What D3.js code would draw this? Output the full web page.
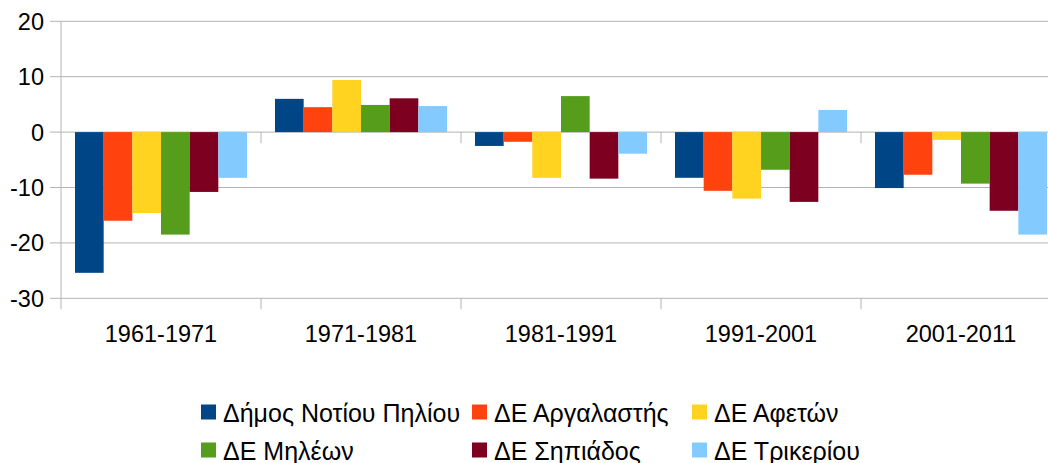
<!DOCTYPE html>
<html>
<head>
<meta charset="utf-8">
<script src="https://cdn.jsdelivr.net/npm/d3@7"></script>
<style>
  html, body { margin: 0; padding: 0; background: #fff; }
  svg { display: block; }
  text { font-family: "Liberation Sans", Arial, sans-serif; fill: #000; }
</style>
</head>
<body>
<svg id="chart" width="1048" height="463"></svg>
<script>
const categories = ["1961-1971", "1971-1981", "1981-1991", "1991-2001", "2001-2011"];
const seriesNames = ["Δήμος Νοτίου Πηλίου", "ΔΕ Αργαλαστής", "ΔΕ Αφετών", "ΔΕ Μηλέων", "ΔΕ Σηπιάδος", "ΔΕ Τρικερίου"];
const seriesColors = ["#004586", "#ff420e", "#ffd320", "#579d1c", "#7e0021", "#83caff"];
const dimosNotiouPiliou = [-25.4, 6.0, -2.5, -8.25, -10.1];
const deArgalastis      = [-16.0, 4.5, -1.75, -10.6, -7.7];
const deAfeton          = [-14.6, 9.4, -8.25, -12.0, -1.4];
const deMileon          = [-18.5, 4.9, 6.5, -6.8, -9.3];
const deSipiados        = [-10.8, 6.1, -8.4, -12.6, -14.2];
const deTrikeriou       = [-8.25, 4.7, -3.9, 4.0, -18.5];
const yTicks = [-30, -20, -10, 0, 10, 20];

const seriesValues = [dimosNotiouPiliou, deArgalastis, deAfeton, deMileon, deSipiados, deTrikeriou];

(function () {
const svg = d3.select("#chart");
const pLeft = 61, pRight = 1061, pTop = 21.3, pBottom = 298.3;

const x0 = d3.scaleBand().domain(categories).range([pLeft, pRight]).padding(0);
const x1 = d3.scaleBand().domain(seriesNames).range([14, x0.bandwidth() - 14]).padding(0);
const y = d3.scaleLinear().domain([-30, 20]).range([pBottom, pTop]);

const grid = "#b3b3b3";

// horizontal gridlines + left ticks
svg.append("g").selectAll("line").data(yTicks).join("line")
  .attr("x1", pLeft - 11).attr("x2", 1048)
  .attr("y1", d => y(d)).attr("y2", d => y(d))
  .attr("stroke", grid).attr("stroke-width", 1);

// y axis line
svg.append("line").attr("x1", pLeft).attr("x2", pLeft)
  .attr("y1", pTop).attr("y2", pBottom + 11)
  .attr("stroke", grid);

// y tick labels
svg.append("g").selectAll("text").data(yTicks).join("text")
  .attr("x", 44).attr("y", d => y(d))
  .attr("dy", "0.36em")
  .attr("text-anchor", "end")
  .attr("font-size", 23.5)
  .text(d => d);

// bars
const groups = svg.append("g").selectAll("g").data(categories).join("g")
  .attr("transform", c => `translate(${x0(c)},0)`);
groups.selectAll("rect")
  .data((c, ci) => seriesNames.map((s, si) => ({ s, si, v: seriesValues[si][ci] })))
  .join("rect")
  .attr("x", d => x1(d.s))
  .attr("width", x1.bandwidth())
  .attr("y", d => Math.min(y(d.v), y(0)))
  .attr("height", d => Math.abs(y(d.v) - y(0)))
  .attr("fill", d => seriesColors[d.si]);

// category boundary ticks (at zero line and at bottom)
const bounds = categories.map(c => x0(c)).concat([pRight]).filter(v => v > pLeft);
svg.append("g").selectAll("line").data(bounds).join("line")
  .attr("x1", d => d).attr("x2", d => d)
  .attr("y1", y(0)).attr("y2", y(0) + 11)
  .attr("stroke", grid);
svg.append("g").selectAll("line").data(bounds).join("line")
  .attr("x1", d => d).attr("x2", d => d)
  .attr("y1", pBottom).attr("y2", pBottom + 11)
  .attr("stroke", grid);

// category labels
svg.append("g").selectAll("text").data(categories).join("text")
  .attr("x", c => x0(c) + x0.bandwidth() / 2)
  .attr("y", 341.5)
  .attr("text-anchor", "middle")
  .attr("font-size", 23.5)
  .text(c => c);

// legend
const legendX = [201, 472, 692];
const legendY = [404.5, 442.5];
const leg = svg.append("g").selectAll("g").data(seriesNames).join("g")
  .attr("transform", (d, i) => `translate(${legendX[i % 3]},${legendY[Math.floor(i / 3)]})`);
leg.append("rect").attr("width", 15).attr("height", 15)
  .attr("fill", (d, i) => seriesColors[i]);
leg.append("text").attr("x", 22).attr("y", 17)
  .attr("font-size", 25)
  .text(d => d);
})();
</script>
</body>
</html>
